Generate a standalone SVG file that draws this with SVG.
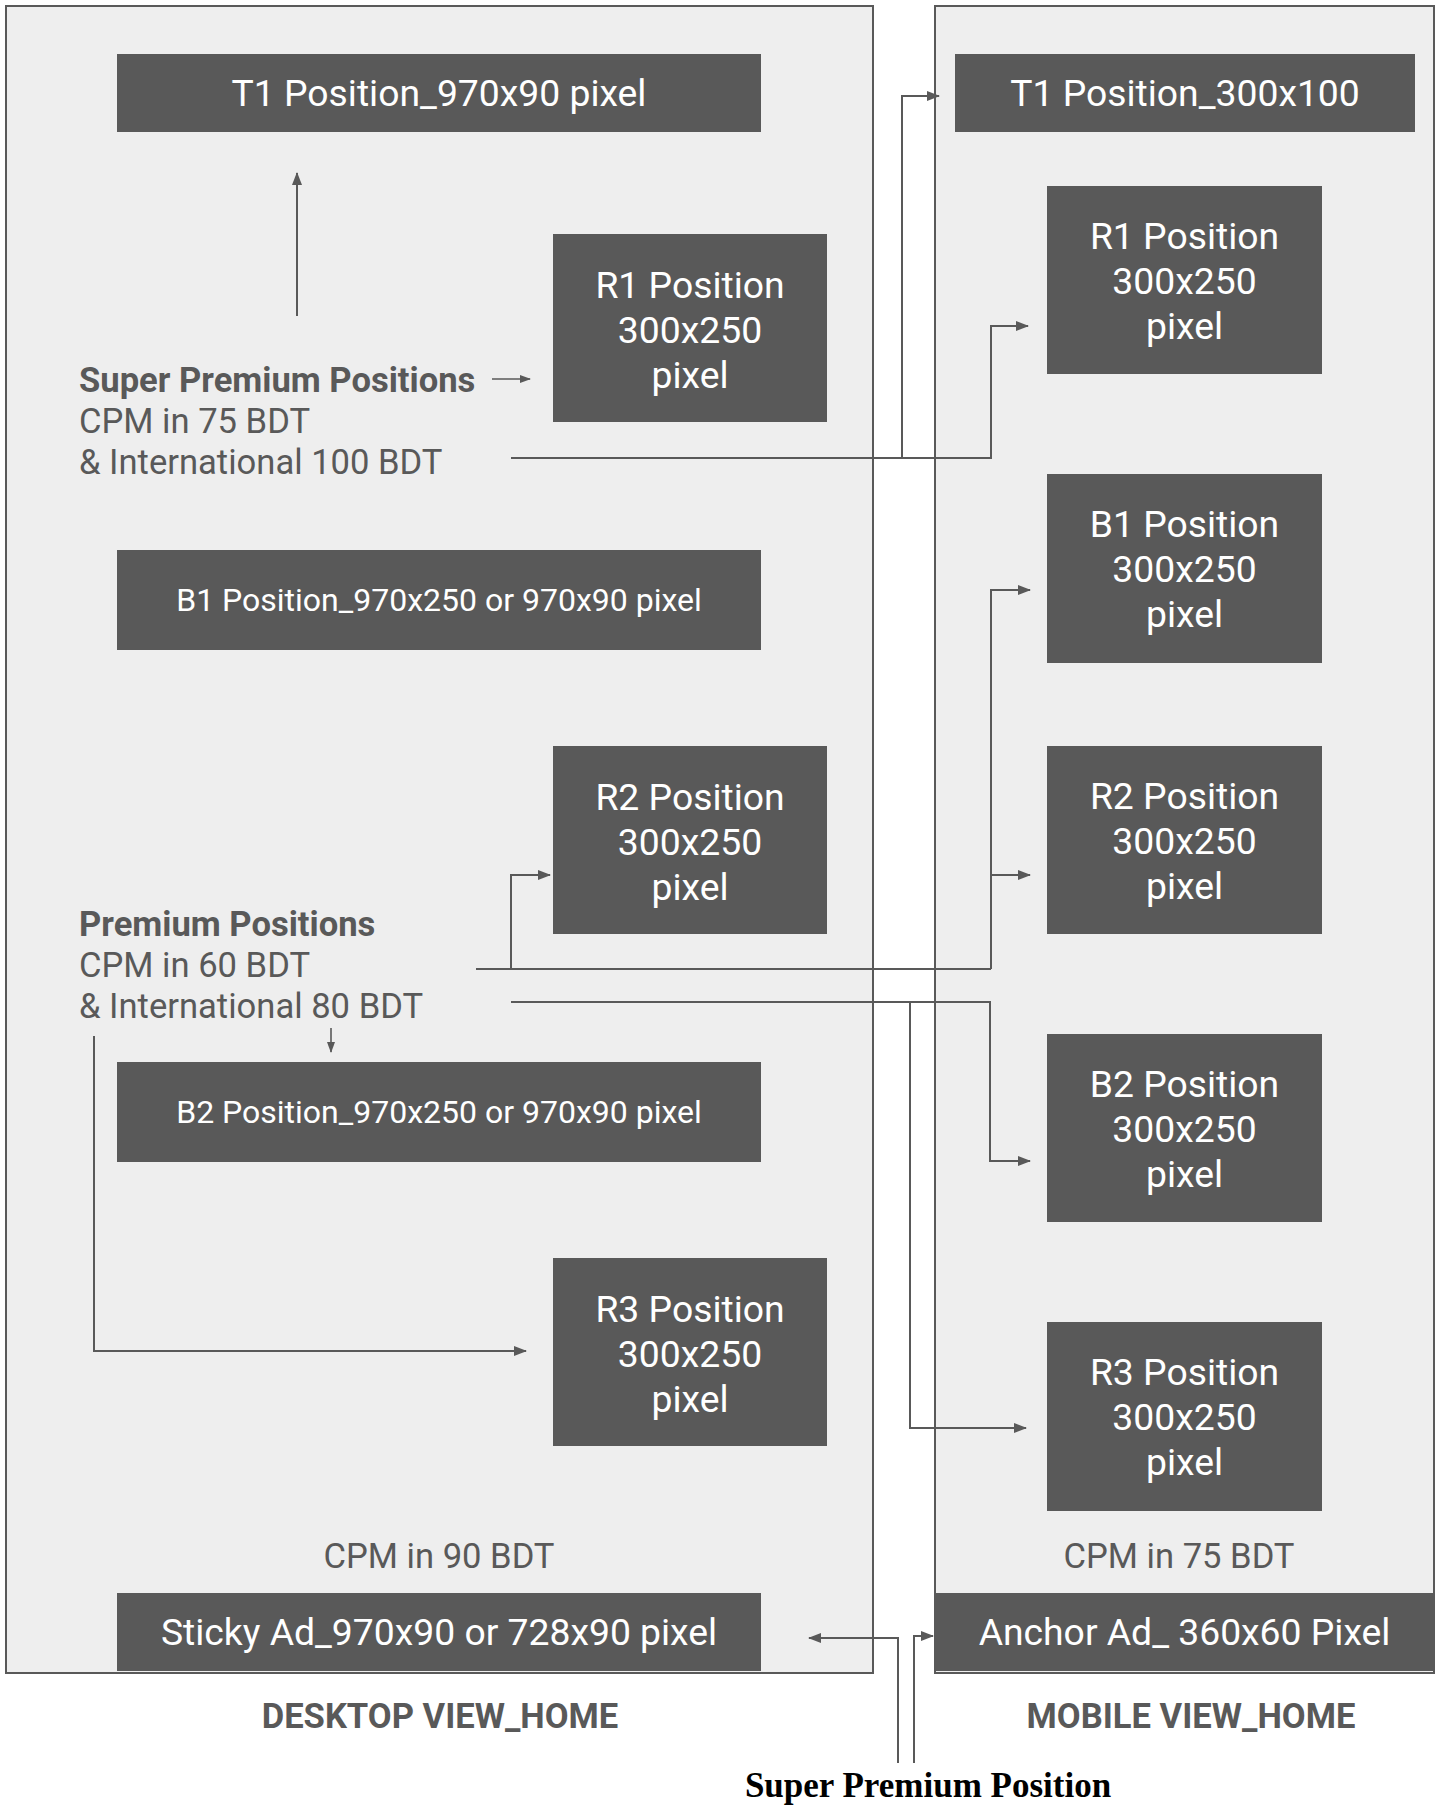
<svg xmlns="http://www.w3.org/2000/svg" width="1444" height="1807" viewBox="0 0 1444 1807">
<style>
.panel{fill:#eeeeee;stroke:#595959;stroke-width:2}
.box{fill:#595959}
.bt{font-family:Roboto,"Liberation Sans",sans-serif;font-size:37.3px;fill:#ffffff;text-anchor:middle}
.bs{font-size:32px}
.lbl{font-family:Roboto,"Liberation Sans",sans-serif;font-size:34.6px;fill:#595959}
.b{font-weight:bold}
.c{text-anchor:middle}
.ln{fill:none;stroke:#595959;stroke-width:2;marker-end:url(#ah)}
.ln2{fill:none;stroke:#595959;stroke-width:1.6;marker-end:url(#ah2)}
.pl{fill:none;stroke:#595959;stroke-width:2}
</style>
<defs>
<marker id="ah" markerUnits="userSpaceOnUse" markerWidth="14" markerHeight="12" refX="12" refY="5" orient="auto">
<path d="M0,0 L13,5 L0,10 z" fill="#595959"/>
</marker>
<marker id="ah2" markerUnits="userSpaceOnUse" markerWidth="12" markerHeight="10" refX="10" refY="4" orient="auto">
<path d="M0,0 L11,4 L0,8 z" fill="#595959"/>
</marker>
</defs>
<rect width="1444" height="1807" fill="#ffffff"/>
<g id="desktop-panel"><rect class="panel" x="6" y="6" width="867" height="1667"/></g>
<g id="mobile-panel"><rect class="panel" x="935" y="6" width="499" height="1667"/></g>

<g id="d-t1"><rect class="box" x="117" y="54" width="644" height="78"/><text class="bt" x="439" y="106">T1 Position_970x90 pixel</text></g>
<g id="d-r1"><rect class="box" x="553" y="234" width="274" height="188"/><text class="bt" x="690" y="298">R1 Position</text><text class="bt" x="690" y="343">300x250</text><text class="bt" x="690" y="388">pixel</text></g>
<g id="d-b1"><rect class="box" x="117" y="550" width="644" height="100"/><text class="bt bs" x="439" y="611">B1 Position_970x250 or 970x90 pixel</text></g>
<g id="d-r2"><rect class="box" x="553" y="746" width="274" height="188"/><text class="bt" x="690" y="810">R2 Position</text><text class="bt" x="690" y="855">300x250</text><text class="bt" x="690" y="900">pixel</text></g>
<g id="d-b2"><rect class="box" x="117" y="1062" width="644" height="100"/><text class="bt bs" x="439" y="1123">B2 Position_970x250 or 970x90 pixel</text></g>
<g id="d-r3"><rect class="box" x="553" y="1258" width="274" height="188"/><text class="bt" x="690" y="1322">R3 Position</text><text class="bt" x="690" y="1367">300x250</text><text class="bt" x="690" y="1412">pixel</text></g>
<g id="d-sticky"><rect class="box" x="117" y="1593" width="644" height="78"/><text class="bt" x="439" y="1645">Sticky Ad_970x90 or 728x90 pixel</text></g>

<g id="m-t1"><rect class="box" x="955" y="54" width="460" height="78"/><text class="bt" x="1185" y="106">T1 Position_300x100</text></g>
<g id="m-r1"><rect class="box" x="1047" y="186" width="275" height="188"/><text class="bt" x="1184.5" y="249">R1 Position</text><text class="bt" x="1184.5" y="294">300x250</text><text class="bt" x="1184.5" y="339">pixel</text></g>
<g id="m-b1"><rect class="box" x="1047" y="474" width="275" height="189"/><text class="bt" x="1184.5" y="537">B1 Position</text><text class="bt" x="1184.5" y="582">300x250</text><text class="bt" x="1184.5" y="627">pixel</text></g>
<g id="m-r2"><rect class="box" x="1047" y="746" width="275" height="188"/><text class="bt" x="1184.5" y="809">R2 Position</text><text class="bt" x="1184.5" y="854">300x250</text><text class="bt" x="1184.5" y="899">pixel</text></g>
<g id="m-b2"><rect class="box" x="1047" y="1034" width="275" height="188"/><text class="bt" x="1184.5" y="1097">B2 Position</text><text class="bt" x="1184.5" y="1142">300x250</text><text class="bt" x="1184.5" y="1187">pixel</text></g>
<g id="m-r3"><rect class="box" x="1047" y="1322" width="275" height="189"/><text class="bt" x="1184.5" y="1385">R3 Position</text><text class="bt" x="1184.5" y="1430">300x250</text><text class="bt" x="1184.5" y="1475">pixel</text></g>
<g id="m-anchor"><rect class="box" x="935" y="1593" width="499" height="78"/><text class="bt" x="1184.5" y="1645">Anchor Ad_ 360x60 Pixel</text></g>

<g id="super-premium-label"><text class="lbl" x="79" y="392"><tspan class="b">Super Premium Positions</tspan><tspan x="79" y="433">CPM in 75 BDT</tspan><tspan x="79" y="474">&amp; International 100 BDT</tspan></text></g>
<g id="premium-label"><text class="lbl" x="79" y="936"><tspan class="b">Premium Positions</tspan><tspan x="79" y="977">CPM in 60 BDT</tspan><tspan x="79" y="1018">&amp; International 80 BDT</tspan></text></g>
<g id="d-cpm"><text class="lbl c" x="439" y="1568">CPM in 90 BDT</text></g>
<g id="m-cpm"><text class="lbl c" x="1179" y="1568">CPM in 75 BDT</text></g>
<g id="d-title"><text class="lbl b c" x="440" y="1728">DESKTOP VIEW_HOME</text></g>
<g id="m-title"><text class="lbl b c" x="1191" y="1728">MOBILE VIEW_HOME</text></g>
<g id="sp-title"><text x="928" y="1797" font-family="'Liberation Serif',serif" font-weight="bold" font-size="35" fill="#000000" text-anchor="middle">Super Premium Position</text></g>

<g id="connectors">
<path class="ln" d="M297,316 V173"/>
<path class="ln2" d="M492,379 H530"/>
<path class="ln" d="M511,458 H991 V326 H1028"/>
<path class="ln" d="M902,457 V96 H939"/>
<path class="pl" d="M476,969 H991"/>
<path class="ln" d="M511,969 V875 H550"/>
<path class="ln" d="M991,969 V590 H1030"/>
<path class="ln" d="M991,875 H1030"/>
<path class="ln" d="M511,1002 H990 V1161 H1030"/>
<path class="ln" d="M910,1001 V1428 H1026"/>
<path class="ln2" d="M331,1028 V1052"/>
<path class="ln" d="M94,1036 V1351 H526"/>
<path class="ln" d="M898,1763 V1638 H809"/>
<path class="ln" d="M914,1763 V1636 H933"/>
</g>
</svg>
